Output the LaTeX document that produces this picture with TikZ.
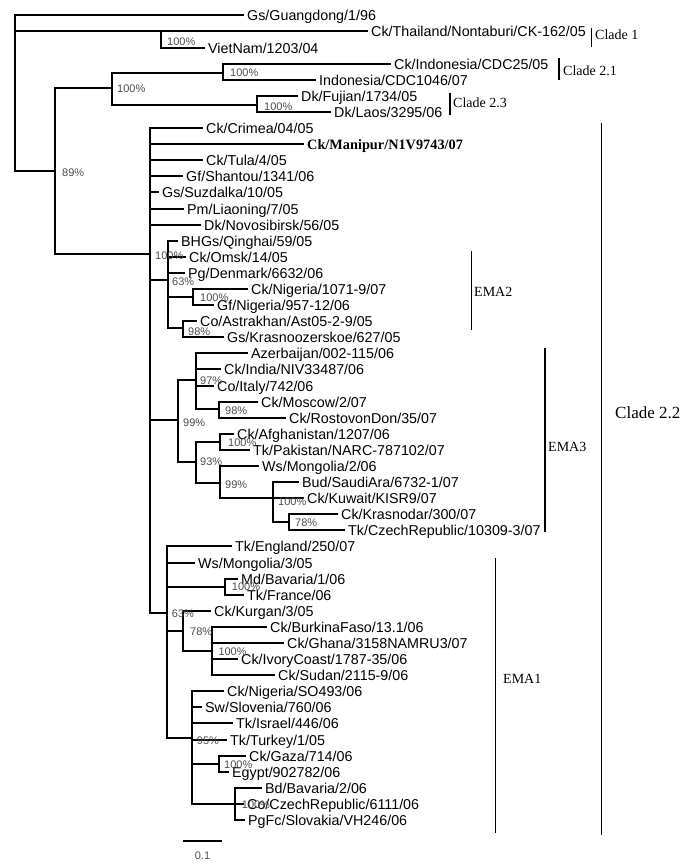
\documentclass[tikz,border=0pt]{standalone}
\usepackage{fontspec}
\setmainfont{Liberation Sans}
\newfontfamily\cladefam{Liberation Serif}
\newcommand\leaffont{\fontsize{14.3}{16}\selectfont}
\newcommand\bootfont{\fontsize{11}{12}\selectfont}
\tikzset{
  branch/.style={line width=2pt, line cap=rect},
  leaf/.style={anchor=west, inner xsep=4pt, inner ysep=0pt, text height=11pt, text depth=1pt, font=\leaffont},
  leafb/.style={leaf, font=\cladefam\bfseries\leaffont},
  boot/.style={anchor=west, inner sep=0pt, text height=8pt, text depth=0pt, font=\bootfont, text=black!70},
  cladebar/.style={line width=1.3pt},
  cladelab/.style={anchor=west, inner sep=0pt, font=\cladefam\fontsize{14}{16}\selectfont},
}
\begin{document}
\begin{tikzpicture}[x=1pt, y=-1pt]
    \useasboundingbox (0,0) rectangle (685,868);

    % leaves, one every 16.1pt: branch start / branch end / name / style / label
    \foreach \xs/\xe/\nm/\st/\lab [count=\i from 0, evaluate=\i as \y using round(15.4+16.093*\i)] in {
        15/243/guang/leaf/{Gs/Guangdong/1/96},
        15/367/thai/leaf/{Ck/Thailand/Nontaburi/CK-162/05},
        161/204/viet/leaf/{VietNam/1203/04},
        223/390/indoa/leaf/{Ck/Indonesia/CDC25/05},
        223/315/indob/leaf/{Indonesia/CDC1046/07},
        257/297/fujian/leaf/{Dk/Fujian/1734/05},
        257/330/laos/leaf/{Dk/Laos/3295/06},
        150/202/crimea/leaf/{Ck/Crimea/04/05},
        150/303/manipur/leafb/{Ck/Manipur/N1V9743/07},
        150/202/tula/leaf/{Ck/Tula/4/05},
        150/182/shantou/leaf/{Gf/Shantou/1341/06},
        150/158/suzdalka/leaf/{Gs/Suzdalka/10/05},
        150/183/liaoning/leaf/{Pm/Liaoning/7/05},
        150/200/novosib/leaf/{Dk/Novosibirsk/56/05},
        168/177/qinghai/leaf/{BHGs/Qinghai/59/05},
        168/185/omsk/leaf/{Ck/Omsk/14/05},
        168/184/denmark/leaf/{Pg/Denmark/6632/06},
        193/247/nigeriaa/leaf/{Ck/Nigeria/1071-9/07},
        193/213/nigeriab/leaf/{Gf/Nigeria/957-12/06},
        183/196/astrakhan/leaf/{Co/Astrakhan/Ast05-2-9/05},
        183/223/krasnoo/leaf/{Gs/Krasnoozerskoe/627/05},
        196/247/azer/leaf/{Azerbaijan/002-115/06},
        196/220/india/leaf/{Ck/India/NIV33487/06},
        196/213/italy/leaf/{Co/Italy/742/06},
        219/257/moscow/leaf/{Ck/Moscow/2/07},
        219/285/rostov/leaf/{Ck/RostovonDon/35/07},
        220/233/afgh/leaf/{Ck/Afghanistan/1207/06},
        220/249/pakistan/leaf/{Tk/Pakistan/NARC-787102/07},
        220/258/wsmonga/leaf/{Ws/Mongolia/2/06},
        273/298/saudi/leaf/{Bud/SaudiAra/6732-1/07},
        220/303/kuwait/leaf/{Ck/Kuwait/KISR9/07},
        289/337/krasnodar/leaf/{Ck/Krasnodar/300/07},
        289/344/czecha/leaf/{Tk/CzechRepublic/10309-3/07},
        167/231/england/leaf/{Tk/England/250/07},
        167/194/wsmongb/leaf/{Ws/Mongolia/3/05},
        225/237/mdbav/leaf/{Md/Bavaria/1/06},
        225/243/france/leaf/{Tk/France/06},
        183/210/kurgan/leaf/{Ck/Kurgan/3/05},
        211.7/266/burkina/leaf/{Ck/BurkinaFaso/13.1/06},
        211.7/283/ghana/leaf/{Ck/Ghana/3158NAMRU3/07},
        211.7/237/ivory/leaf/{Ck/IvoryCoast/1787-35/06},
        211.7/274/sudan/leaf/{Ck/Sudan/2115-9/06},
        191.7/223/nigeriac/leaf/{Ck/Nigeria/SO493/06},
        191.7/201/slovenia/leaf/{Sw/Slovenia/760/06},
        191.7/232/israel/leaf/{Tk/Israel/446/06},
        191.7/226/turkey/leaf/{Tk/Turkey/1/05},
        219/245/gaza/leaf/{Ck/Gaza/714/06},
        219/228/egypt/leaf/{Egypt/902782/06},
        235/261/bdbav/leaf/{Bd/Bavaria/2/06},
        235/243/czechb/leaf/{Co/CzechRepublic/6111/06},
        235/244/slovakia/leaf/{PgFc/Slovakia/VH246/06}} {
        \node[\st] (\nm) at (\xe,\y) {\lab};
        \draw[branch] (\xs,\y) -- (\nm.west);
    }

    % vertical lines of the inner nodes
    \foreach \x/\ya/\yb in {15/15/171, 55/88/254, 161/31/48, 112/73/105, 223/64/80, 257/96/112,
        150/128/613, 168/241/328, 193/289/305, 183/321/337,
        178/380/462, 196/353/409, 219/402/418, 196/442/483, 220/434/450,
        220/466/498, 273/482/522, 289/514/530,
        167/546/738, 225/579/595, 183/611/651, 211.7/627/675,
        191.7/691/804, 219/756/772, 235/788/820}
        \draw[branch] (\x,\ya) -- (\x,\yb);

    % horizontal links between inner nodes
    \foreach \y/\xa/\xb in {171/15/55, 88/55/112, 254/55/150, 73/112/223, 105/112/257,
        280/150/168, 297/168/193, 328/168/183,
        420/150/178, 380/178/196, 409/196/219, 462/178/196, 442/196/220, 483/196/220, 522/273/289,
        613/150/167, 587/167/225, 631/167/183, 651/183/211.7, 738/167/191.7, 764/191.7/219, 804/191.7/235}
        \draw[branch] (\xa,\y) -- (\xb,\y);

    % bootstrap values
    \foreach \x/\y/\p [count=\i] in {167/41/100, 230/72/100, 117/88/100, 264/106/100, 62/172/89,
        155/255/100, 172/281/63, 200/297/100, 188/331/98,
        200/380/97, 225/410/98, 183/422/99, 228/442.7/100, 200/461.7/93, 225/484/99, 278/501.7/100, 295/522.7/78,
        231.7/586.7/100, 171.7/613.3/63, 190/631.7/78, 218.3/651.7/100, 196.7/740/95, 224/764/100, 241.7/804/100}
        \node[boot] (bs\i) at (\x,\y) {\p\%};

    % scale bar
    \draw[branch, line cap=butt] (183.3,841) -- (221.7,841);
    \node[boot, anchor=center] (scale) at (202.5,855) {0.1};

    % clade brackets
    \foreach \x/\ya/\yb/\xl/\yl/\lab [count=\i] in {591.7/28/47/595/35/Clade 1, 559/58/80/563/71/Clade 2.1,
        450/93/115/453/103/Clade 2.3, 471.7/251/330/474/292/EMA2, 545/348/531.7/548/447/EMA3, 495.7/558/832.7/503/679/EMA1} {
        \draw[cladebar] (\x,\ya) -- (\x,\yb);
        \node[cladelab] (cl\i) at (\xl,\yl) {\lab};
    }
    \draw[cladebar] (601.7,122.7) -- (601.7,835);
    \node[cladelab, font=\cladefam\fontsize{17}{19}\selectfont] (cladeb) at (615,413) {Clade 2.2};
\end{tikzpicture}
\end{document}
